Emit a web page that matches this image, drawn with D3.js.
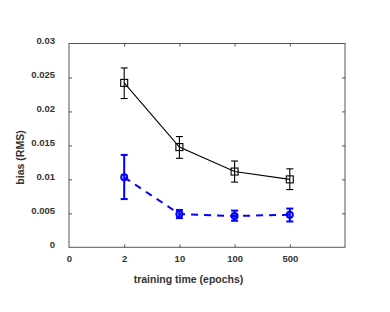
<!DOCTYPE html>
<html><head><meta charset="utf-8">
<script src="https://cdn.jsdelivr.net/npm/d3@7/dist/d3.min.js"></script>
<style>body{margin:0;background:#fff}svg{display:block}</style>
</head><body>
<script>
const xLabels = ["0","2","10","100","500",""];
const pointCats = ["2","10","100","500"];
const blackMean = [0.0242, 0.01475, 0.01115, 0.0100];
const blackLo   = [0.0219, 0.0131, 0.0096, 0.0085];
const blackHi   = [0.0264, 0.0163, 0.0127, 0.01155];
const blueMean  = [0.0103, 0.0049, 0.0046, 0.0048];
const blueLo    = [0.0071, 0.0043, 0.0039, 0.0038];
const blueHi    = [0.0136, 0.0055, 0.0054, 0.0057];
const yTicks = [0, 0.005, 0.01, 0.015, 0.02, 0.025, 0.03];
const yTickLabels = ["0","0.005","0.01","0.015","0.02","0.025","0.03"];

const W=390,H=312, L=69, R=345, T=43.5, B=247.3;
const svg=d3.select("body").append("svg").attr("width",W).attr("height",H);
const x=d3.scalePoint().domain(d3.range(xLabels.length)).range([L,R]);
const y=d3.scaleLinear().domain([0,0.03]).range([B,T]);
const font="Liberation Sans, Arial, sans-serif";
const axCol="#555";
const txtCol="#333";

// frame
svg.append("rect").attr("x",L).attr("y",T).attr("width",R-L).attr("height",B-T)
  .attr("fill","none").attr("stroke",axCol).attr("stroke-width",1);

const inner=d3.range(1,xLabels.length-1);
const innerY=yTicks.slice(1,-1);
// inward ticks on all sides
svg.append("g").attr("transform",`translate(0,${T})`).call(d3.axisTop(x).tickValues(inner).tickSize(-3).tickFormat(""))
  .call(g=>{g.select(".domain").remove();g.selectAll("line").attr("stroke",axCol);});
svg.append("g").attr("transform",`translate(0,${B})`).call(d3.axisBottom(x).tickValues(inner).tickSize(-3).tickFormat(""))
  .call(g=>{g.select(".domain").remove();g.selectAll("line").attr("stroke",axCol);});
svg.append("g").attr("transform",`translate(${R},0)`).call(d3.axisRight(y).tickValues(innerY).tickSize(-3).tickFormat(""))
  .call(g=>{g.select(".domain").remove();g.selectAll("line").attr("stroke",axCol);});
svg.append("g").attr("transform",`translate(${L},0)`).call(d3.axisLeft(y).tickValues(innerY).tickSize(-3).tickFormat(""))
  .call(g=>{g.select(".domain").remove();g.selectAll("line").attr("stroke",axCol);});

// bottom labels
const botAx=d3.axisBottom(x).tickValues(d3.range(0,xLabels.length-1)).tickSize(0).tickPadding(8).tickFormat(i=>xLabels[i]);
svg.append("g").attr("transform",`translate(0,${B})`).call(botAx)
  .call(g=>{g.select(".domain").remove();g.selectAll("text").attr("font-family",font).attr("font-weight","bold").attr("font-size",9.5).attr("fill",txtCol);});
// left labels
const leftAx=d3.axisLeft(y).tickValues(yTicks).tickSize(0).tickPadding(14).tickFormat((d,i)=>yTickLabels[i]);
svg.append("g").attr("transform",`translate(${L},0)`).call(leftAx)
  .call(g=>{g.select(".domain").remove();g.selectAll("text").attr("dy","0").attr("font-family",font).attr("font-weight","bold").attr("font-size",9.5).attr("fill",txtCol);});

svg.append("text").attr("x",188.5).attr("y",283).attr("text-anchor","middle")
  .attr("font-family",font).attr("font-weight","bold").attr("font-size",10.5).attr("fill",txtCol)
  .text("training time (epochs)");
svg.append("text").attr("transform",`translate(23.5,157.5) rotate(-90)`).attr("text-anchor","middle")
  .attr("font-family",font).attr("font-weight","bold").attr("font-size",10.5).attr("fill",txtCol)
  .text("bias (RMS)");

const xi=c=>x(xLabels.indexOf(c));
function series(mean,lo,hi,color,width,dash,marker){
  const g=svg.append("g");
  const line=d3.line().x((d,i)=>xi(pointCats[i])).y(d=>y(d));
  g.append("path").datum(mean).attr("d",line).attr("fill","none").attr("stroke",color)
   .attr("stroke-width",width).attr("stroke-dasharray",dash);
  pointCats.forEach((c,i)=>{
    const cx=xi(c);
    g.append("line").attr("x1",cx).attr("x2",cx).attr("y1",y(lo[i])).attr("y2",y(hi[i])).attr("stroke",color).attr("stroke-width",width);
    [lo[i],hi[i]].forEach(v=>g.append("line").attr("x1",cx-3.5).attr("x2",cx+3.5).attr("y1",y(v)).attr("y2",y(v)).attr("stroke",color).attr("stroke-width",width));
    if(marker==="square"){
      g.append("rect").attr("x",cx-3.5).attr("y",y(mean[i])-3.5).attr("width",7).attr("height",7)
       .attr("fill","none").attr("stroke",color).attr("stroke-width",1.1);
    } else {
      g.append("circle").attr("cx",cx).attr("cy",y(mean[i])).attr("r",3)
       .attr("fill","none").attr("stroke",color).attr("stroke-width",2);
    }
  });
}
series(blackMean,blackLo,blackHi,"#000",1.1,null,"square");
series(blueMean,blueLo,blueHi,"#0000ff",2,"7,6","circle");
</script>
</body></html>
